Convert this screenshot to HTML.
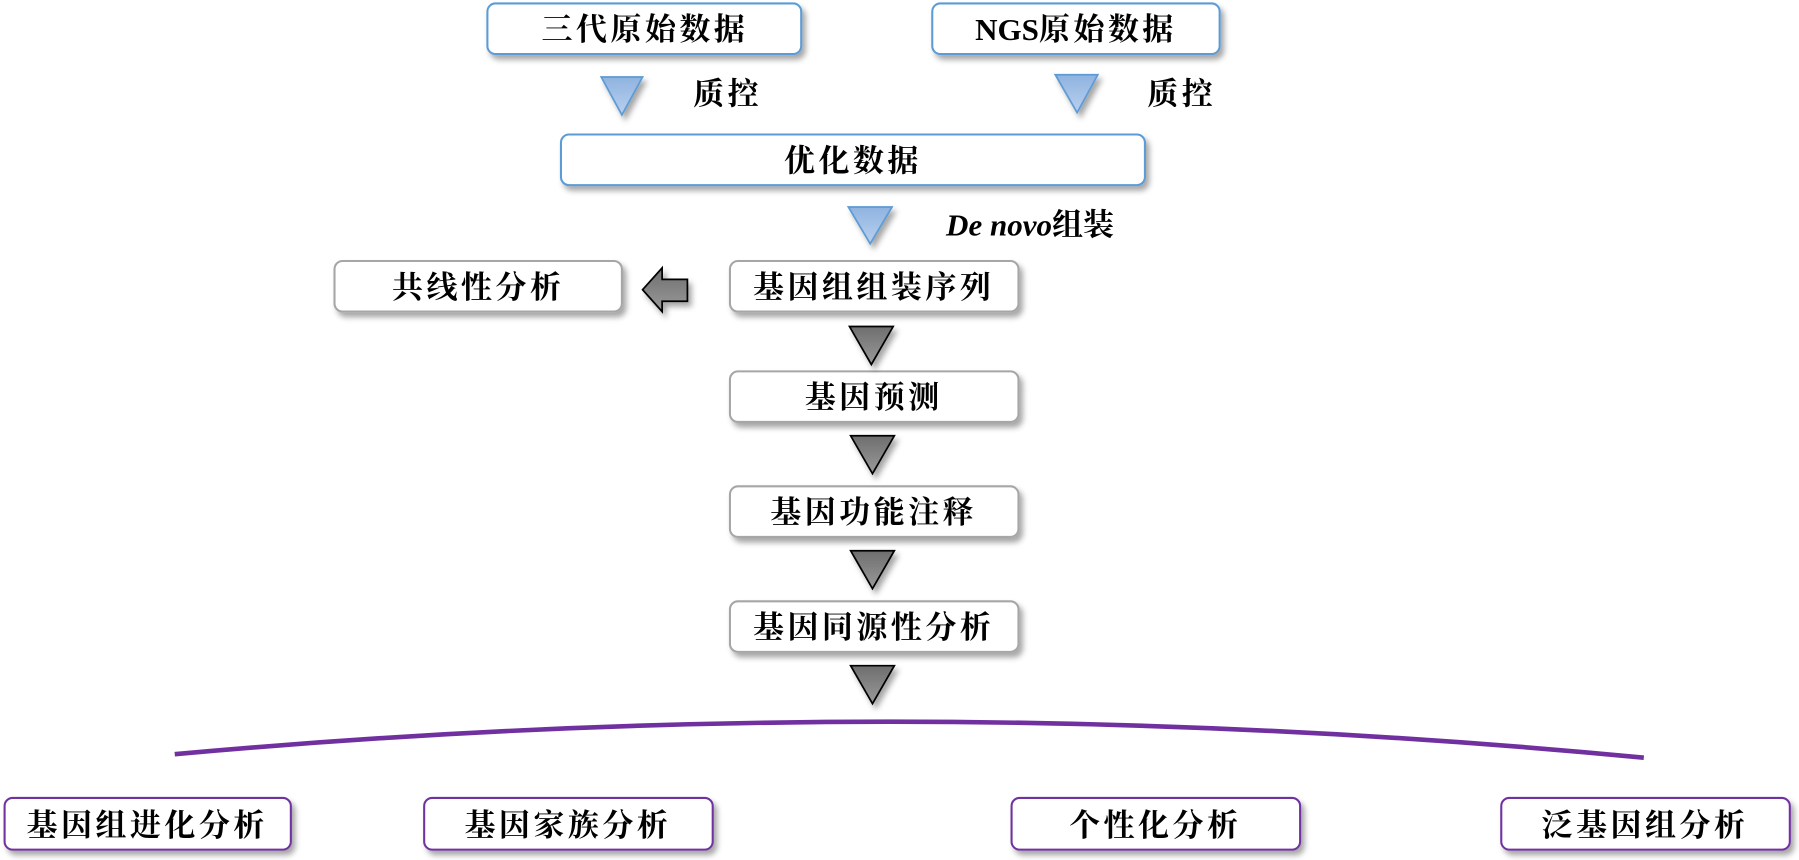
<!DOCTYPE html>
<html><head><meta charset="utf-8"><style>
html,body{margin:0;padding:0;background:#fff;}
svg{display:block;}
text{font-family:"Liberation Serif","Noto Serif CJK SC",serif;font-weight:700;fill:#000;}
</style></head><body>
<svg width="1799" height="860" viewBox="0 0 1565 748" preserveAspectRatio="none" xmlns="http://www.w3.org/2000/svg">
<defs>
<filter id="sh" x="-10%" y="-20%" width="130%" height="160%">
<feDropShadow dx="3" dy="4" stdDeviation="2.5" flood-color="#000" flood-opacity="0.35"/>
</filter>
<linearGradient id="bl" x1="0" y1="0" x2="0" y2="1"><stop offset="0" stop-color="#8fb3e0"/><stop offset="1" stop-color="#b9d0ee"/></linearGradient>
<linearGradient id="gr" x1="0" y1="0" x2="0" y2="1"><stop offset="0" stop-color="#6e6e6e"/><stop offset="1" stop-color="#9a9a9a"/></linearGradient>
</defs>
<g filter="url(#sh)" fill="#fff" stroke-width="1.8">
<rect x="424" y="3" width="273" height="44" rx="7" stroke="#5b9bd5"/>
<rect x="811" y="3" width="250" height="44" rx="7" stroke="#5b9bd5"/>
<rect x="488" y="117" width="508" height="44" rx="7" stroke="#5b9bd5"/>
<rect x="635" y="227" width="251" height="44" rx="7" stroke="#a6a6a6"/>
<rect x="291" y="227" width="250" height="44" rx="7" stroke="#a6a6a6"/>
<rect x="635" y="323" width="251" height="44" rx="7" stroke="#a6a6a6"/>
<rect x="635" y="423" width="251" height="44" rx="7" stroke="#a6a6a6"/>
<rect x="635" y="523" width="251" height="44" rx="7" stroke="#a6a6a6"/>
<rect x="4" y="694" width="249" height="45" rx="7" stroke="#7030a0"/>
<rect x="369" y="694" width="251" height="45" rx="7" stroke="#7030a0"/>
<rect x="880" y="694" width="251" height="45" rx="7" stroke="#7030a0"/>
<rect x="1306" y="694" width="251" height="45" rx="7" stroke="#7030a0"/>
</g>
<g filter="url(#sh)" stroke="#5b9bd5" stroke-width="1.5" fill="url(#bl)">
<polygon points="523,67 559,67 541,100"/>
<polygon points="918,65 955,65 937,98"/>
<polygon points="738,180 776,180 757,212"/>
</g>
<g filter="url(#sh)" stroke="#000" stroke-width="1.5" fill="url(#gr)">
<polygon points="739,284 777,284 758,317"/>
<polygon points="740,379 778,379 759,412"/>
<polygon points="740,479 778,479 759,512"/>
<polygon points="740,579 778,579 759,612"/>
<polygon points="559,252 576,233 576,243 598,243 598,262 576,262 576,271"/>
</g>
<path d="M152,656 Q790,598 1430,659" fill="none" stroke="#7030a0" stroke-width="4"/>
<g font-size="27" text-anchor="middle" letter-spacing="3">
<text x="561" y="35">三代原始数据</text>
<text x="936" y="35"><tspan letter-spacing="0">NGS</tspan>原始数据</text>
<text x="633" y="91">质控</text>
<text x="1028" y="91">质控</text>
<text x="742" y="149">优化数据</text>
<text x="760" y="259">基因组组装序列</text>
<text x="416" y="259">共线性分析</text>
<text x="760" y="355">基因预测</text>
<text x="760" y="455">基因功能注释</text>
<text x="760" y="555">基因同源性分析</text>
<text x="128" y="727">基因组进化分析</text>
<text x="494" y="727">基因家族分析</text>
<text x="1005" y="727">个性化分析</text>
<text x="1431" y="727">泛基因组分析</text>
</g>
<text x="823" y="205" font-size="27"><tspan font-style="italic">De novo</tspan>组装</text>
</svg>
</body></html>
